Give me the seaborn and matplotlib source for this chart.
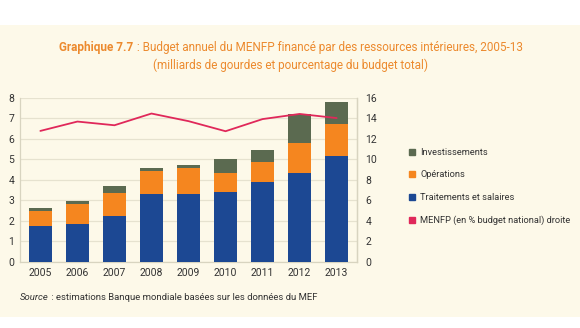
import matplotlib
matplotlib.use("Agg")
import matplotlib.pyplot as plt
import seaborn as sns
import numpy as np
import pandas as pd
from matplotlib.patches import Rectangle
from matplotlib.lines import Line2D

years = ["2005", "2006", "2007", "2008", "2009", "2010", "2011", "2012", "2013"]
traitements = [1.75, 1.87, 2.24, 3.33, 3.33, 3.39, 3.88, 4.32, 5.14]
operations = [0.73, 0.97, 1.12, 1.10, 1.24, 0.96, 0.99, 1.47, 1.56]
investissements = [0.15, 0.15, 0.36, 0.13, 0.17, 0.65, 0.60, 1.43, 1.10]
menfp_pct = [12.75, 13.66, 13.3, 14.44, 13.7, 12.72, 13.9, 14.4, 14.0]

c_blue = "#1c4893"
c_orange = "#f5861f"
c_gray = "#5b6a50"
c_line = "#e0285a"
c_bg = "#fdf9e9"
c_title = "#ec8a2e"

sns.set_theme(style="white")
plt.rcParams["font.family"] = ["Roboto", "DejaVu Sans"]

df = pd.DataFrame({"year": years, "t": traitements, "o": operations, "i": investissements})
df["to"] = df["t"] + df["o"]
df["toi"] = df["to"] + df["i"]

fig = plt.figure(figsize=(5.8, 3.28), dpi=100)
fig.patch.set_facecolor("white")
fig.patches.append(Rectangle((0, 11 / 328), 1, 292 / 328, transform=fig.transFigure,
                             facecolor=c_bg, edgecolor="none", zorder=-10))

ax = fig.add_axes([20 / 580, 66 / 328, 337 / 580, 164.5 / 328])
ax.set_facecolor(c_bg)
for col, colr in [("toi", c_gray), ("to", c_orange), ("t", c_blue)]:
    sns.barplot(data=df, x="year", y=col, color=colr, width=0.62, ax=ax,
                saturation=1, edgecolor="none", linewidth=0, zorder=3)
ax.set_ylim(0, 8)
ax.set_xlim(-0.55, len(years) - 0.45)
ax.set_yticks(range(0, 9))
ax.set_xlabel("")
ax.set_ylabel("")
ax.yaxis.grid(True, color="#e6e2cf", linewidth=0.9, zorder=0)
ax.set_axisbelow(True)
ax.tick_params(axis="both", labelsize=7.5, colors="#333333", length=0, pad=4)
ax.spines["top"].set_visible(False)
for s in ["left", "right", "bottom"]:
    ax.spines[s].set_color("#d8d4c0")
    ax.spines[s].set_linewidth(0.9)

ax2 = ax.twinx()
sns.lineplot(x=np.arange(len(years)), y=menfp_pct, color=c_line, linewidth=1.3, ax=ax2, zorder=5)
ax2.set_ylim(0, 16)
ax2.set_yticks(range(0, 17, 2))
ax2.tick_params(axis="y", labelsize=7.5, colors="#333333", length=0, pad=6)
for s in ["top", "left", "bottom"]:
    ax2.spines[s].set_visible(False)
ax2.spines["right"].set_color("#d8d4c0")
ax2.spines["right"].set_linewidth(0.9)

handles = [
    Line2D([], [], marker="s", linestyle="none", markersize=5, color=c_gray),
    Line2D([], [], marker="s", linestyle="none", markersize=5, color=c_orange),
    Line2D([], [], marker="s", linestyle="none", markersize=5, color=c_blue),
    Line2D([], [], marker="s", linestyle="none", markersize=5, color=c_line),
]
labels = ["Investissements", "Opérations", "Traitements et salaires",
          "MENFP (en % budget national) droite"]
fig.legend(handles, labels, loc="upper left", bbox_to_anchor=(408 / 580, 1 - 148 / 328),
           frameon=False, fontsize=6.7, labelspacing=1.45, handletextpad=0.5,
           handlelength=0.8, labelcolor="#333333", borderaxespad=0, borderpad=0)

# Title: bold prefix + regular text, centred together
renderer = fig.canvas.get_renderer()
cx = 291
y1 = 1 - 47 / 328
tb = fig.text(0, y1, "Graphique 7.7", ha="left", va="center", fontsize=8.5,
              fontweight="bold", color=c_title)
tr = fig.text(0, y1, " : Budget annuel du MENFP financé par des ressources intérieures, 2005-13",
              ha="left", va="center", fontsize=8.5, color=c_title)
wb = tb.get_window_extent(renderer).width
wr = tr.get_window_extent(renderer).width
x0 = cx - (wb + wr) / 2
tb.set_x(x0 / 580)
tr.set_x((x0 + wb) / 580)
fig.text(cx / 580, 1 - 65 / 328, "(milliards de gourdes et pourcentage du budget total)",
         ha="center", va="center", fontsize=8.5, color=c_title)

ts = fig.text(20 / 580, 1 - 297 / 328, "Source", style="italic", ha="left", va="center",
              fontsize=6.8, color="#333333")
ws = ts.get_window_extent(renderer).width
fig.text((20 + ws) / 580, 1 - 297 / 328, " : estimations Banque mondiale basées sur les données du MEF",
         ha="left", va="center", fontsize=6.8, color="#333333")

fig.savefig("out.png", dpi=100, facecolor="white")
